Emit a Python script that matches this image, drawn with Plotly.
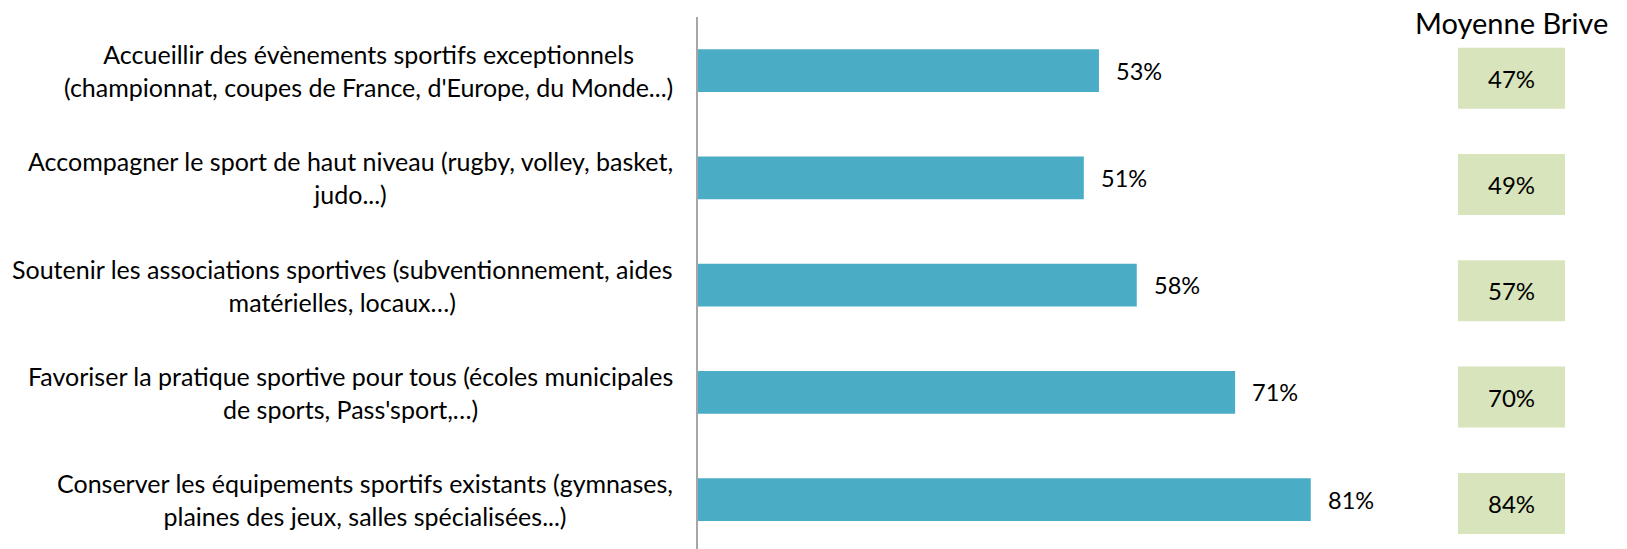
import plotly.graph_objects as go

categories = [
    "Accueillir des évènements sportifs exceptionnels<br>(championnat, coupes de France, d'Europe, du Monde...)",
    "Accompagner le sport de haut niveau (rugby, volley, basket,<br>judo...)",
    "Soutenir les associations sportives (subventionnement, aides<br>matérielles, locaux…)",
    "Favoriser la pratique sportive pour tous (écoles municipales<br>de sports, Pass'sport,…)",
    "Conserver les équipements sportifs existants (gymnases,<br>plaines des jeux, salles spécialisées...)",
]
values = [53, 51, 58, 71, 81]
brive_avg = [47, 49, 57, 70, 84]
header = "Moyenne Brive"

OFF = 8  # page body margin
W, H = 1627, 549
L = 698 - OFF
T = 17 - OFF
B = 8
plot_w = W - L
plot_h = H - T - B
FONT = "Lato"

fig = go.Figure()
fig.add_trace(go.Bar(
    y=categories, x=values, orientation="h",
    marker=dict(color="#4BACC6", line=dict(width=0)),
    width=0.4, xaxis="x", yaxis="y", hoverinfo="skip",
))
fig.add_trace(go.Bar(
    y=categories, x=[1] * len(brive_avg), orientation="h",
    marker=dict(color="#D8E4BC", line=dict(width=0)),
    width=0.574, xaxis="x2", yaxis="y2",
    text=[f"{v}%" for v in brive_avg], textposition="inside",
    insidetextanchor="middle", textangle=0,
    textfont=dict(family=FONT, size=24, color="#000000"),
    hoverinfo="skip",
))

annotations = []
for c in categories:
    annotations.append(dict(
        x=(675 - OFF - L) / plot_w, xref="paper", xanchor="right",
        y=c, yref="y", yanchor="middle", align="center",
        text=c, showarrow=False,
        font=dict(family=FONT, size=25, color="#000000"),
    ))
for c, v in zip(categories, values):
    annotations.append(dict(
        x=v, xref="x", xanchor="left", xshift=15,
        y=c, yref="y", yanchor="middle",
        text=f"{v}%", showarrow=False,
        font=dict(family=FONT, size=23.5, color="#000000"),
    ))
annotations.append(dict(
    x=0.5, xref="x2 domain", xanchor="center",
    y=1 - (23 - 17) / plot_h, yref="paper", yanchor="middle",
    text=header, showarrow=False,
    font=dict(family=FONT, size=29, color="#000000"),
))

x2_dom = [(1458 - 698) / plot_w, (1565 - 698) / plot_w]
fig.update_layout(
    width=W, height=H,
    margin=dict(l=L, r=0, t=T, b=B, pad=0),
    paper_bgcolor="white", plot_bgcolor="white",
    showlegend=False, barmode="overlay",
    xaxis=dict(domain=[0, 756.5 / plot_w], range=[0, 100], visible=False, fixedrange=True),
    yaxis=dict(type="category", categoryorder="array", categoryarray=categories,
               range=[4.46, -0.5], showticklabels=False, showgrid=False, zeroline=False,
               showline=True, linecolor="#A6A6A6", linewidth=2, ticks=""),
    xaxis2=dict(domain=x2_dom, range=[0, 1], visible=False, anchor="y2"),
    yaxis2=dict(type="category", categoryorder="array", categoryarray=categories,
                range=[4.429, -0.576], visible=False, anchor="x2"),
    annotations=annotations,
)

fig.write_html("out.html")
